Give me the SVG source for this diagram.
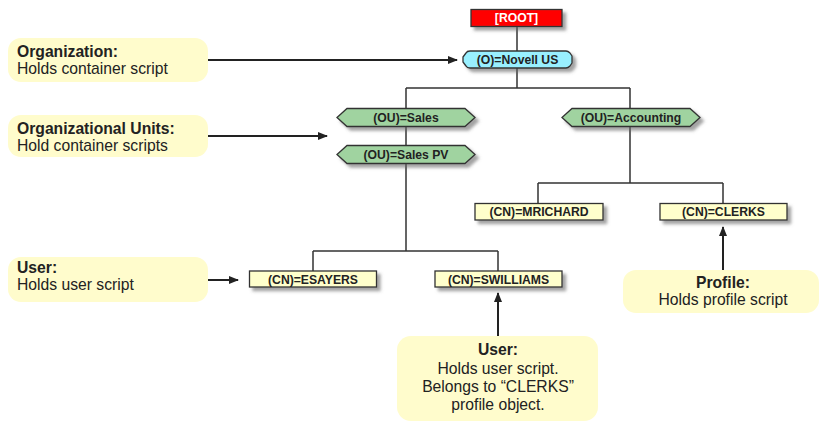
<svg xmlns="http://www.w3.org/2000/svg" width="825" height="421" viewBox="0 0 825 421">
<style>
.node{stroke:#333;stroke-width:1.3;filter:url(#sh)}
.cn{fill:#ffffcc}
.ou{fill:#a0d3a0}
.lbl{font-family:"Liberation Sans",Arial,sans-serif;font-weight:bold;font-size:12.2px;fill:#222;text-anchor:middle}
.call{fill:#fffccc}
.ct{font-family:"Liberation Sans",Arial,sans-serif;font-size:15.7px;fill:#222}
.ctb{font-weight:bold}
.tree{fill:none;stroke:#333;stroke-width:1.5}
.arr{fill:none;stroke:#222;stroke-width:2;marker-end:url(#ah)}
</style>
<defs>
<filter id="sh" x="-10%" y="-30%" width="130%" height="180%">
<feDropShadow dx="3.5" dy="3.5" stdDeviation="1.5" flood-color="#666" flood-opacity="0.6"/>
</filter>
<marker id="ah" markerWidth="10" markerHeight="8" refX="9" refY="4" orient="auto" markerUnits="userSpaceOnUse">
<path d="M0,0 L10,4 L0,8 Z" fill="#222"/>
</marker>
</defs>
<rect width="825" height="421" fill="#fff"/>
<g id="connectors">
<path class="tree" d="M517,27 V51"/>
<path class="tree" d="M517,68 V88 M406,88 H630 M406,88 V108 M630,88 V108"/>
<path class="tree" d="M406,127 V145"/>
<path class="tree" d="M406,163 V251 M313,251 H498 M313,251 V271 M498,251 V271"/>
<path class="tree" d="M630,127 V183 M538,183 H723 M538,183 V203 M723,183 V203"/>
<path class="arr" d="M208,60 H457"/>
<path class="arr" d="M208,136 H327"/>
<path class="arr" d="M208,280 H238"/>
<path class="arr" d="M498,336 V293"/>
<path class="arr" d="M723,270 V227"/>
</g>
<g id="root">
<rect class="node" x="471" y="9.5" width="91" height="17" fill="#ff0000"/>
<text x="516.5" y="22.2" class="lbl" style="fill:#fff">[ROOT]</text>
</g>
<g id="novell">
<path class="node" d="M470,51 H566 Q568,51 570,53 L572,56 V63 L570,66 Q568,68 566,68 H470 Q467,68 466,66 L463,62 V57 L466,53 Q467,51 470,51 Z" fill="#99f0ff" stroke-linejoin="round"/>
<text x="517.5" y="64.2" class="lbl">(O)=Novell US</text>
</g>
<g id="sales">
<path class="node ou" d="M347,108.5 H465 L475,117.5 L465,126.5 H347 L337,117.5 Z"/>
<text x="406" y="121.8" class="lbl">(OU)=Sales</text>
</g>
<g id="salespv">
<path class="node ou" d="M347,145.5 H465 L475,154.5 L465,163.5 H347 L337,154.5 Z"/>
<text x="406" y="158.8" class="lbl">(OU)=Sales PV</text>
</g>
<g id="accounting">
<path class="node ou" d="M572,108.5 H690 L700,117.5 L690,126.5 H572 L562,117.5 Z"/>
<text x="631" y="121.8" class="lbl">(OU)=Accounting</text>
</g>
<g id="mrichard">
<rect class="node cn" x="475" y="203.5" width="128" height="16.5"/>
<text x="539" y="216.2" class="lbl">(CN)=MRICHARD</text>
</g>
<g id="clerks">
<rect class="node cn" x="660" y="203.5" width="127" height="16.5"/>
<text x="723.5" y="216.2" class="lbl">(CN)=CLERKS</text>
</g>
<g id="esayers">
<rect class="node cn" x="249.5" y="271" width="127" height="16"/>
<text x="313" y="283.6" class="lbl">(CN)=ESAYERS</text>
</g>
<g id="swilliams">
<rect class="node cn" x="435" y="271" width="127" height="16"/>
<text x="498.5" y="283.6" class="lbl">(CN)=SWILLIAMS</text>
</g>
<g id="call-org">
<rect class="call" x="8" y="38" width="200" height="44" rx="13"/>
<text class="ct" x="17"><tspan class="ctb" x="17" y="57">Organization:</tspan><tspan x="17" y="74">Holds container script</tspan></text>
</g>
<g id="call-ou">
<rect class="call" x="8" y="115" width="200" height="42" rx="13"/>
<text class="ct" x="17"><tspan class="ctb" x="17" y="134">Organizational Units:</tspan><tspan x="17" y="151">Hold container scripts</tspan></text>
</g>
<g id="call-user">
<rect class="call" x="8" y="257" width="200" height="45" rx="13"/>
<text class="ct" x="17"><tspan class="ctb" x="17" y="273">User:</tspan><tspan x="17" y="290">Holds user script</tspan></text>
</g>
<g id="call-user2">
<rect class="call" x="397" y="336" width="201" height="85" rx="14"/>
<text class="ct" text-anchor="middle"><tspan class="ctb" x="498" y="355">User:</tspan><tspan x="498" y="374">Holds user script.</tspan><tspan x="498" y="392">Belongs to “CLERKS”</tspan><tspan x="498" y="410">profile object.</tspan></text>
</g>
<g id="call-profile">
<rect class="call" x="623" y="270" width="196" height="43" rx="13"/>
<text class="ct" text-anchor="middle"><tspan class="ctb" x="723" y="288">Profile:</tspan><tspan x="723" y="305">Holds profile script</tspan></text>
</g>
</svg>
